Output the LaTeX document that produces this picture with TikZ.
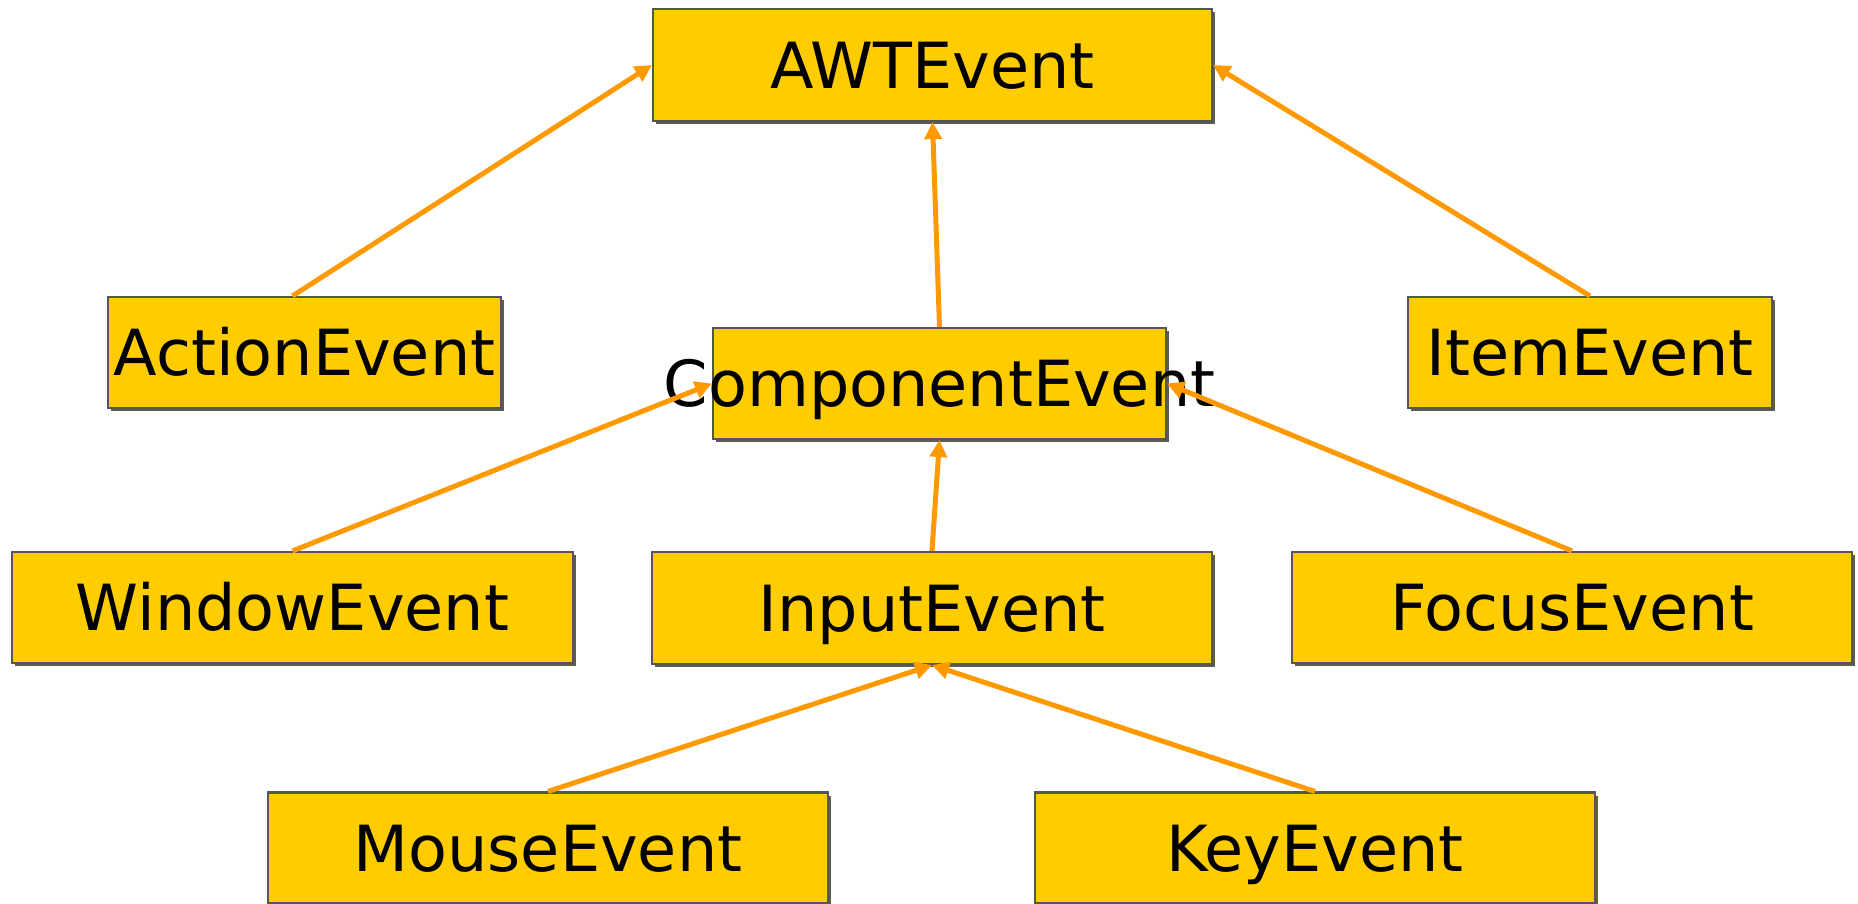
\documentclass[tikz,border=0pt]{standalone}
\usepackage{fontspec}
\setmainfont{DejaVu Sans}
\usetikzlibrary{arrows.meta,shadows}
\definecolor{boxfill}{HTML}{FFCC00}
\definecolor{boxline}{HTML}{555555}
\definecolor{boxshadow}{HTML}{5F5A52}
\definecolor{arrowcol}{HTML}{FF9900}
\tikzset{
    cls/.style={draw=boxline, line width=0.6pt, fill=boxfill, inner sep=0pt,
        minimum width=5.6cm, minimum height=1.11cm,
        text height=0.61cm, text depth=0.15cm,
        font=\fontsize{18.1pt}{21pt}\selectfont,
        drop shadow={shadow xshift=0.03cm, shadow yshift=-0.03cm, fill=boxshadow, opacity=1}},
    inh/.style={draw=arrowcol, line width=0.05cm, -{Triangle[length=0.17cm,width=0.17cm]}}
}
\begin{document}
\begin{tikzpicture}
        \useasboundingbox (0,0) rectangle (18.58,-9.03);
        \node[cls, minimum width=5.59cm, minimum height=1.12cm] (n1) at (9.325,-0.65) {AWTEvent};
        \node[cls, node distance=2.875cm, below of=n1, xshift=-6.28cm, minimum width=3.93cm] (n2) {ActionEvent};
        \node[cls, node distance=3.185cm, below of=n1, xshift=0.07cm, minimum width=4.53cm] (n3) {\makebox[0pt]{ComponentEvent}};
        \node[cls, node distance=2.875cm, below of=n1, xshift=6.575cm, minimum width=3.64cm] (n4) {ItemEvent};
        \node[cls, node distance=2.24cm, below of=n3, xshift=-6.47cm, minimum width=5.61cm] (n5) {WindowEvent};
        \node[cls, node distance=2.245cm, below of=n3, xshift=-0.075cm, minimum height=1.12cm] (n6) {InputEvent};
        \node[cls, node distance=2.24cm, below of=n3, xshift=6.325cm] (n7) {FocusEvent};
        \node[cls, node distance=2.40cm, below of=n6, xshift=-3.84cm] (n8) {MouseEvent};
        \node[cls, node distance=2.40cm, below of=n6, xshift=3.83cm] (n9) {KeyEvent};
        \draw[inh] ([xshift=-0.12cm]n2.north) -- (n1.west);
        \draw[inh] (n3.north) -- (n1.south);
        \draw[inh] (n4.north) -- (n1.east);
        \draw[inh] (n5.north) -- (n3.west);
        \draw[inh] (n6.north) -- (n3.south);
        \draw[inh] (n7.north) -- (n3.east);
        \draw[inh] (n8.north) -- (n6.south);
        \draw[inh] (n9.north) -- (n6.south);
    \end{tikzpicture}
\end{document}
